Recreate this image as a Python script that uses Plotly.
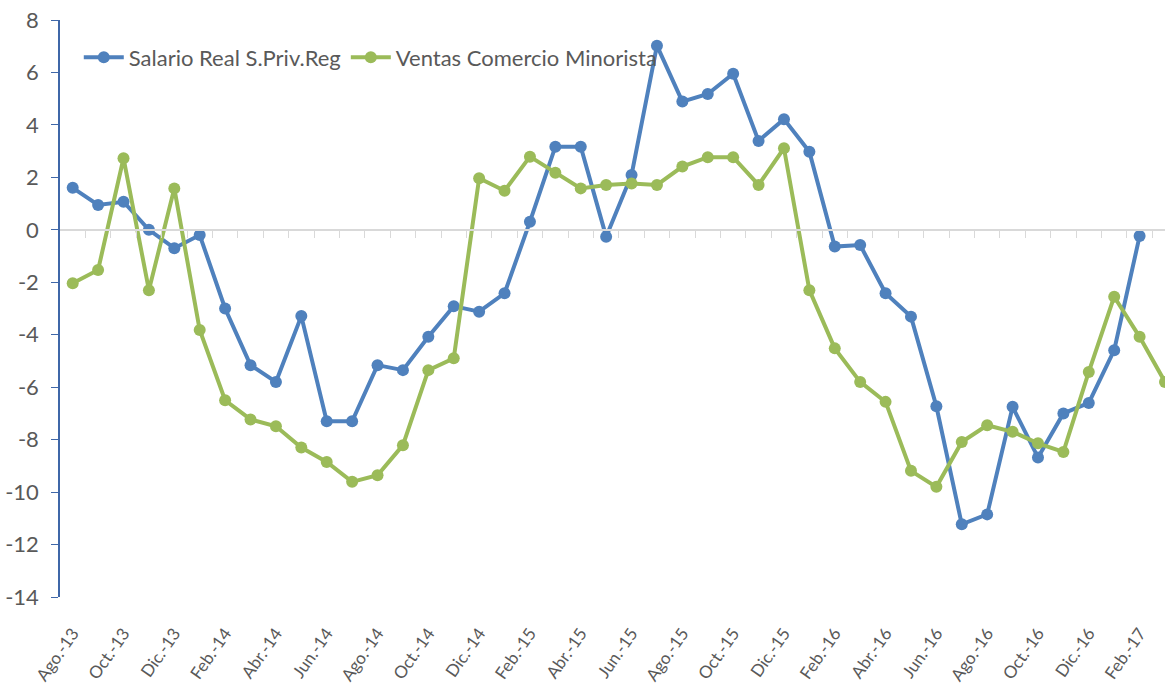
import plotly.graph_objects as go

months = ["Ago.", "Sep.", "Oct.", "Nov.", "Dic.", "Ene.", "Feb.", "Mar.", "Abr.", "May.", "Jun.", "Jul."]
labels = []
year = 13
for i in range(44):
    m = months[i % 12]
    if m == "Ene." and i > 0:
        year += 1
    labels.append(f"{m}-{year}")

salario = [1.6, 0.95, 1.07, 0.0, -0.7, -0.2, -3.0, -5.16, -5.8, -3.29,
           -7.3, -7.3, -5.16, -5.35, -4.08, -2.91, -3.12, -2.42, 0.31, 3.17,
           3.17, -0.26, 2.09, 7.02, 4.89, 5.18, 5.95, 3.39, 4.22, 2.98,
           -0.64, -0.58, -2.42, -3.31, -6.73, -11.23, -10.85, -6.75, -8.68, -7.0,
           -6.6, -4.59, -0.24, None]
ventas = [-2.04, -1.53, 2.73, -2.3, 1.58, -3.82, -6.5, -7.23, -7.49, -8.3,
          -8.85, -9.61, -9.36, -8.21, -5.35, -4.9, 1.97, 1.49, 2.79, 2.18,
          1.58, 1.71, 1.77, 1.71, 2.41, 2.77, 2.77, 1.71, 3.11, -2.3,
          -4.52, -5.8, -6.56, -9.19, -9.8, -8.09, -7.45, -7.7, -8.14, -8.47,
          -5.42, -2.55, -4.08, -5.8]
names = ["Salario Real S.Priv.Reg", "Ventas Comercio Minorista"]
colors = ["#4f81bd", "#9bbb59"]
yticks = list(range(-14, 9, 2))
yticktext = [str(v) for v in yticks]

FONT = "Lato, Roboto, sans-serif"
xs = list(range(len(labels)))

fig = go.Figure()
for name, vals, col in zip(names, [salario, ventas], colors):
    fig.add_trace(go.Scatter(
        x=xs, y=vals, name=name, mode="lines+markers",
        line=dict(color=col, width=4),
        marker=dict(color=col, size=12),
        cliponaxis=False, connectgaps=False,
    ))
fig.add_trace(go.Scatter(x=[0], y=[None], xaxis="x2", showlegend=False,
                         hoverinfo="skip", mode="lines"))

tickpos = [i for i in xs if i % 2 == 0 and i <= 42]
ymin, ymax = -14, 8

fig.update_layout(
    width=1165, height=694,
    margin=dict(l=60, r=0, t=20, b=97),
    paper_bgcolor="white", plot_bgcolor="white",
    font=dict(family=FONT, color="#595959"),
    showlegend=True,
    legend=dict(orientation="h", x=0.017, y=0.935, xanchor="left", yanchor="middle",
                font=dict(size=22, color="#595959", family=FONT),
                bgcolor="rgba(0,0,0,0)", itemwidth=40),
    xaxis=dict(range=[-0.5, 43], tickmode="array", tickvals=tickpos,
               ticktext=[labels[i] for i in tickpos], tickangle=-55,
               showgrid=False, zeroline=False, showline=False, ticks="",
               tickfont=dict(size=17, color="#595959"), ticklabelstandoff=22,
               automargin=False),
    xaxis2=dict(range=[-0.5, 43], overlaying="x", anchor="free",
                position=(0 - ymin) / (ymax - ymin), side="bottom",
                tickmode="array", tickvals=[i + 0.5 for i in xs],
                showticklabels=False, ticks="outside", ticklen=7, tickcolor="#d9d9d9",
                showline=True, linecolor="#d9d9d9", linewidth=1.5,
                showgrid=False, zeroline=False),
    yaxis=dict(range=[ymin, ymax], tickmode="array", tickvals=yticks, ticktext=yticktext,
               showgrid=False, zeroline=False, showline=True, linecolor="#3f67a8",
               linewidth=1.5, ticks="outside", ticklen=7, tickcolor="#3f67a8",
               tickfont=dict(size=22, color="#595959"), ticklabelstandoff=8,
               automargin=False),
)

fig.write_html("out.html", config={"displayModeBar": False},
               post_script="document.body.style.margin='0';document.body.style.overflow='hidden';")
